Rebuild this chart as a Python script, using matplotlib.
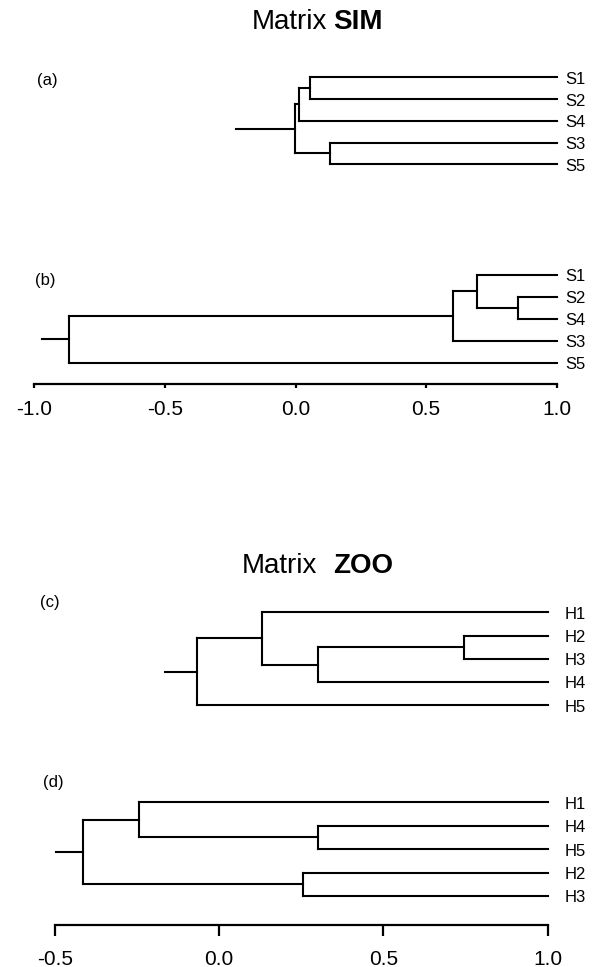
import matplotlib
matplotlib.use("Agg")
import matplotlib.pyplot as plt

plt.rcParams["font.family"] = ["Liberation Sans", "DejaVu Sans"]
plt.rcParams["axes.unicode_minus"] = False

W, H = 596, 967
LW = 1.5

# leaves listed top to bottom; merges are (child, child, level),
# ids >= 5 point at earlier merges (like a scipy linkage)
a_leaves = ["S1", "S2", "S4", "S3", "S5"]
a_merges = [(0, 1, 0.055), (5, 2, 0.015), (3, 4, 0.132), (6, 7, -0.003)]
a_stub = -0.228

b_leaves = ["S1", "S2", "S4", "S3", "S5"]
b_merges = [(1, 2, 0.853), (0, 5, 0.694), (6, 3, 0.604), (7, 4, -0.867)]
b_stub = -0.969

c_leaves = ["H1", "H2", "H3", "H4", "H5"]
c_merges = [(1, 2, 0.746), (5, 3, 0.302), (0, 6, 0.131), (7, 4, -0.068)]
c_stub = -0.165

d_leaves = ["H1", "H4", "H5", "H2", "H3"]
d_merges = [(1, 2, 0.300), (0, 5, -0.244), (3, 4, 0.254), (6, 7, -0.414)]
d_stub = -0.497

sim_ticks = [-1.0, -0.5, 0.0, 0.5, 1.0]
zoo_ticks = [-0.5, 0.0, 0.5, 1.0]


def make_axes(fig, x_left, x_right, xlim, top, bottom, y0, dy):
    ax = fig.add_axes([x_left / W, 1 - bottom / H,
                       (x_right - x_left) / W, (bottom - top) / H])
    ax.set_xlim(*xlim)
    ax.set_ylim((bottom - y0) / dy, (top - y0) / dy)
    return ax


def draw_tree(ax, leaves, merges, stub, leaf_pad):
    xs = [1.0] * len(leaves)
    ys = list(range(len(leaves)))
    kw = dict(color="black", lw=LW, clip_on=False)
    for i, j, h in merges:
        for k in (i, j):
            ax.plot([xs[k], h], [ys[k], ys[k]], **kw)
        ax.plot([h, h], [ys[i], ys[j]], **kw)
        xs.append(h)
        ys.append((ys[i] + ys[j]) / 2)
    ax.plot([stub, xs[-1]], [ys[-1], ys[-1]], **kw)
    for k, name in enumerate(leaves):
        ax.annotate(name, (1.0, k), xytext=(leaf_pad, -1.5),
                    textcoords="offset points", va="center", ha="left",
                    fontsize=12, annotation_clip=False)


def style_axis(ax, ticks, tick_len, pad):
    for side in ("left", "top", "right"):
        ax.spines[side].set_visible(False)
    ax.spines["bottom"].set_linewidth(1.6)
    ax.set_yticks([])
    ax.set_xticks(ticks)
    ax.set_xticklabels([f"{t:.1f}" for t in ticks])
    ax.tick_params(axis="x", length=tick_len, width=1.6, pad=pad,
                   labelsize=15)
    ax.patch.set_visible(False)


fig = plt.figure(figsize=(W / 100, H / 100), dpi=100)

# Matrix SIM
ax_a = make_axes(fig, 34.3, 556.7, (-1, 1), 60, 180, 77.3, 21.75)
draw_tree(ax_a, a_leaves, a_merges, a_stub, 6.5)
ax_a.axis("off")

ax_b = make_axes(fig, 34.3, 556.7, (-1, 1), 255, 384, 274.7, 22.0)
draw_tree(ax_b, b_leaves, b_merges, b_stub, 6.5)
style_axis(ax_b, sim_ticks, 3, 8.5)

# Matrix ZOO
ax_c = make_axes(fig, 55, 547.7, (-0.5, 1), 590, 720, 612.3, 23.2)
draw_tree(ax_c, c_leaves, c_merges, c_stub, 12)
ax_c.axis("off")

ax_d = make_axes(fig, 55, 547.7, (-0.5, 1), 780, 925.3, 802.3, 23.4)
draw_tree(ax_d, d_leaves, d_merges, d_stub, 12)
style_axis(ax_d, zoo_ticks, 8, 9.5)

# titles
fig.text(252 / W, 1 - 29.3 / H, "Matrix", fontsize=20, ha="left", va="baseline")
fig.text(333 / W, 1 - 29.3 / H, "SIM", fontsize=20, fontweight="bold",
         ha="left", va="baseline")
fig.text(242 / W, 1 - 573.3 / H, "Matrix", fontsize=20, ha="left", va="baseline")
fig.text(333 / W, 1 - 573.3 / H, "ZOO", fontsize=20, fontweight="bold",
         ha="left", va="baseline")

# panel letters
for lab, px, py in [("(a)", 37, 80), ("(b)", 35, 280), ("(c)", 40, 602), ("(d)", 43, 782)]:
    fig.text(px / W, 1 - py / H, lab, fontsize=12, ha="left", va="center")

fig.savefig("out.png", dpi=100)
